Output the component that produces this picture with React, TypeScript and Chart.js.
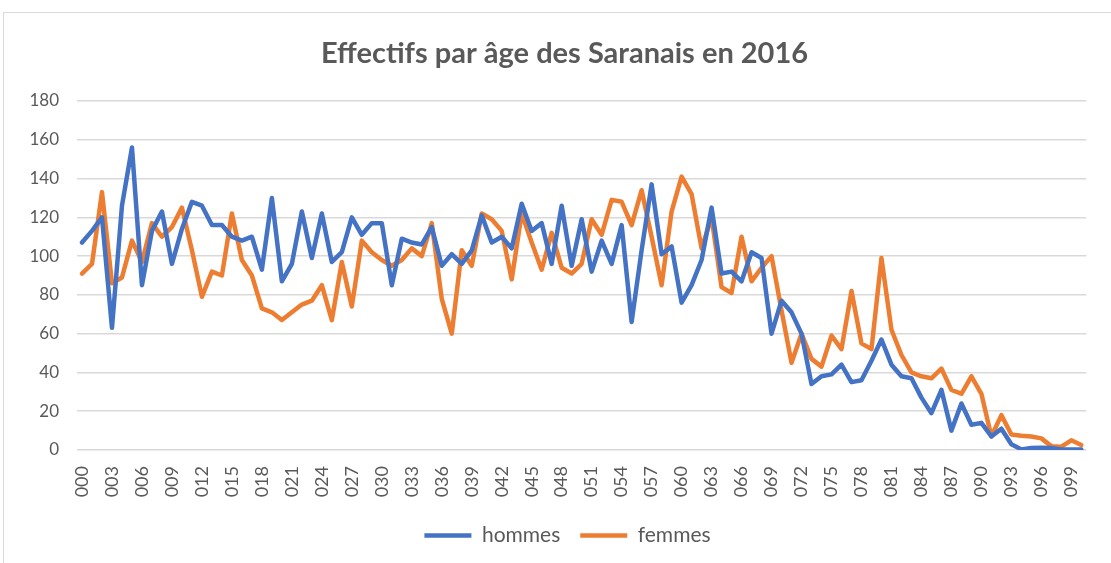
import React, { useEffect, useRef } from "react";
import { Chart, registerables } from "chart.js";

Chart.register(...registerables);

const TITLE = "Effectifs par âge des Saranais en 2016";

const AGES = [
  "000","001","002","003","004","005","006","007","008","009",
  "010","011","012","013","014","015","016","017","018","019",
  "020","021","022","023","024","025","026","027","028","029",
  "030","031","032","033","034","035","036","037","038","039",
  "040","041","042","043","044","045","046","047","048","049",
  "050","051","052","053","054","055","056","057","058","059",
  "060","061","062","063","064","065","066","067","068","069",
  "070","071","072","073","074","075","076","077","078","079",
  "080","081","082","083","084","085","086","087","088","089",
  "090","091","092","093","094","095","096","097","098","099",
  "100",
];

const HOMMES = [
  107, 113, 120, 63, 126, 156, 85, 113, 123, 96,
  114, 128, 126, 116, 116, 110, 108, 110, 93, 130,
  87, 96, 123, 99, 122, 97, 102, 120, 111, 117,
  117, 85, 109, 107, 106, 115, 95, 101, 96, 103,
  121, 107, 110, 104, 127, 113, 117, 96, 126, 95,
  119, 92, 108, 96, 116, 66, 103, 137, 101, 105,
  76, 85, 98, 125, 91, 92, 87, 102, 99, 60,
  77, 71, 60, 34, 38, 39, 44, 35, 36, 46,
  57, 44, 38, 37, 27, 19, 31, 10, 24, 13,
  14, 7, 11, 3, 0.3, 1, 1.2, 1, 0.3, 0.3,
  0.3,
];

const FEMMES = [
  91, 96, 133, 86, 89, 108, 97, 117, 110, 115,
  125, 103, 79, 92, 90, 122, 98, 90, 73, 71,
  67, 71, 75, 77, 85, 67, 97, 74, 108, 102,
  98, 95, 98, 104, 100, 117, 78, 60, 103, 95,
  122, 119, 113, 88, 122, 107, 93, 112, 94, 91,
  96, 119, 111, 129, 128, 116, 134, 110, 85, 123,
  141, 132, 104, 120, 84, 81, 110, 87, 94, 100,
  72, 45, 60, 47, 43, 59, 52, 82, 55, 52,
  99, 62, 49, 40, 38, 37, 42, 31, 29, 38,
  29, 7, 18, 8, 7.4, 7, 6, 2, 1.7, 5,
  2.6,
];

const TEXT = "#595959";
const FONT = "Lato, 'Open Sans', sans-serif";

// shifts the title and legend boxes horizontally to centre them like the reference
const shiftBoxes = {
  id: "shiftBoxes",
  afterLayout(chart: any) {
    const t = chart.titleBlock;
    if (t) {
      t.left += 17;
      t.right += 17;
    }
    const l = chart.legend;
    if (l) {
      l.left += 20;
      l.right += 20;
    }
  },
};

export default function App() {
  const canvasRef = useRef<HTMLCanvasElement | null>(null);

  useEffect(() => {
    if (!canvasRef.current) return;
    const chart = new Chart(canvasRef.current, {
      type: "line",
      plugins: [shiftBoxes],
      data: {
        labels: AGES,
        datasets: [
          {
            label: "hommes",
            data: HOMMES,
            borderColor: "#4472C4",
            backgroundColor: "#4472C4",
            borderWidth: 4.5,
            pointRadius: 0,
            tension: 0,
            borderCapStyle: "round",
            borderJoinStyle: "round",
          },
          {
            label: "femmes",
            data: FEMMES,
            borderColor: "#ED7D31",
            backgroundColor: "#ED7D31",
            borderWidth: 4.5,
            pointRadius: 0,
            tension: 0,
            borderCapStyle: "round",
            borderJoinStyle: "round",
          },
        ],
      },
      options: {
        responsive: false,
        animation: false,
        layout: { padding: { left: 0, right: 16, top: 0, bottom: 7 } },
        plugins: {
          title: {
            display: true,
            text: TITLE,
            color: TEXT,
            font: { family: FONT, size: 29, weight: "bold" },
            padding: { top: 36.6, bottom: 29.6 },
          },
          legend: {
            position: "bottom",
            labels: {
              usePointStyle: true,
              pointStyle: "line",
              pointStyleWidth: 47,
              boxHeight: 21,
              color: TEXT,
              font: { family: FONT, size: 21 },
              padding: 20,
            },
          },
          tooltip: { enabled: false },
        },
        scales: {
          x: {
            offset: true,
            grid: { display: false },
            border: { display: false },
            afterFit: (scale: any) => {
              scale.height = 55;
            },
            ticks: {
              autoSkip: false,
              minRotation: 90,
              maxRotation: 90,
              padding: 8,
              color: TEXT,
              font: { family: FONT, size: 18 },
              callback: (_v: any, i: number) => (i % 3 === 0 ? AGES[i] : ""),
            },
          },
          y: {
            min: 0,
            max: 180,
            afterFit: (scale: any) => {
              scale.width = 77;
            },
            grid: { color: "#d9d9d9", lineWidth: 1.5, drawTicks: false },
            border: { display: false },
            ticks: {
              stepSize: 20,
              padding: 18,
              color: TEXT,
              font: { family: FONT, size: 17 },
            },
          },
        },
      },
    });
    return () => chart.destroy();
  }, []);

  return (
    <div
      style={{
        position: "fixed",
        left: 0,
        top: 0,
        width: 1111,
        height: 563,
        overflow: "hidden",
        background: "#ffffff",
      }}
    >
      <div
        style={{
          position: "absolute",
          left: 3,
          top: 12,
          width: 1200,
          height: 700,
          border: "1px solid #d9d9d9",
          boxSizing: "border-box",
        }}
      />
      <canvas
        ref={canvasRef}
        width={1111}
        height={563}
        style={{ position: "absolute", left: 0, top: 0, width: 1111, height: 563 }}
      />
    </div>
  );
}
